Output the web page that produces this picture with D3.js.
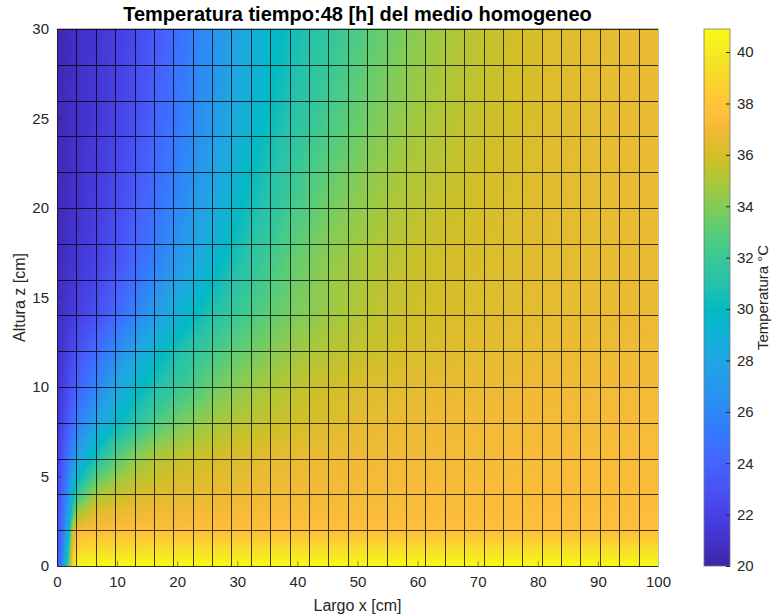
<!DOCTYPE html>
<html><head><meta charset="utf-8">
<script src="https://cdn.jsdelivr.net/npm/d3@7"></script>
<style>
html,body{margin:0;padding:0;background:#fff;}
svg text{font-family:"Liberation Sans",Arial,Helvetica,sans-serif;}
</style></head>
<body>
<svg id="chart" width="773" height="616"></svg>
<script>
// ---- tick labels ----
const xTicks = [0,10,20,30,40,50,60,70,80,90,100];
const zTicks = [0,5,10,15,20,25,30];
const cbTicks = [20,22,24,26,28,30,32,34,36,38,40];
const cbDomain = [20, 40.9];
// ---- data nodes (x in cm, z in cm) ----
const xNodes = [0,1,2,2.6,3.2,6.5,9.7,12.9,16.1,19.4,22.6,25.8,29,32.3,38.7,45.2,51.6,58.1,64.5,71,77.4,83.9,90.3,100];
const zNodes = [0,1,2,3,4,6,8,10,12,14,17,20,25,30];
// temperature (°C) along each z row, at xNodes
const T_z0  = [22.8,27.0,33.5,38.5,40.6,40.8,40.8,40.8,40.8,40.8,40.8,40.8,40.8,40.8,40.8,40.8,40.8,40.8,40.8,40.8,40.8,40.8,40.8,40.8];
const T_z1  = [22.5,25.5,31.5,37.0,38.9,39.1,39.15,39.15,39.2,39.2,39.2,39.2,39.2,39.2,39.2,39.2,39.25,39.25,39.25,39.25,39.25,39.25,39.25,39.25];
const T_z2  = [22.3,25.0,29.5,35.5,37.2,37.45,37.5,37.55,37.55,37.55,37.6,37.6,37.6,37.6,37.6,37.6,37.6,37.6,37.6,37.6,37.6,37.6,37.6,37.6];
const T_z3  = [22.2,24.8,27.8,31.5,34.5,36.4,36.7,36.85,36.95,37.0,37.05,37.1,37.15,37.2,37.25,37.3,37.3,37.35,37.4,37.4,37.45,37.45,37.5,37.5];
const T_z4  = [22.0,24.3,27.0,29.5,31.5,34.8,35.6,36.0,36.3,36.5,36.6,36.7,36.8,36.85,37.0,37.1,37.15,37.2,37.25,37.3,37.3,37.35,37.35,37.4];
const T_z6  = [21.6,23.3,25.3,26.4,27.5,30.8,32.9,34.2,35.0,35.5,35.8,36.0,36.2,36.4,36.7,36.85,36.95,37.05,37.1,37.15,37.2,37.25,37.3,37.35];
const T_z8  = [21.2,22.3,23.7,24.5,25.3,27.8,29.6,31.2,32.5,33.4,34.1,34.7,35.1,35.4,35.9,36.3,36.6,36.75,36.9,37.0,37.05,37.1,37.15,37.2];
const T_z10 = [21.0,21.8,22.8,23.3,23.8,25.8,27.8,29.4,30.7,31.7,32.5,33.4,34.0,34.5,35.3,35.9,36.3,36.5,36.7,36.8,36.9,36.95,37.0,37.05];
const T_z12 = [20.8,21.3,22.0,22.4,22.8,24.4,26.2,27.8,29.3,30.5,31.5,32.3,33.0,33.5,34.5,35.2,35.7,36.1,36.3,36.5,36.6,36.75,36.85,36.95];
const T_z14 = [20.7,21.0,21.4,21.6,21.8,22.8,24.2,25.7,27.3,28.7,29.9,31.0,31.8,32.5,33.7,34.6,35.3,35.8,36.1,36.3,36.5,36.6,36.7,36.8];
const T_z17 = [20.5,20.7,21.0,21.15,21.3,22.0,23.0,24.2,25.5,26.8,28.0,29.3,30.5,31.5,33.1,34.3,35.0,35.6,36.0,36.2,36.4,36.55,36.65,36.75];
const T_z20 = [20.4,20.6,20.8,20.95,21.1,21.7,22.5,23.5,24.6,25.8,27.0,28.2,29.4,30.5,32.2,33.6,34.5,35.2,35.7,36.1,36.3,36.5,36.6,36.7];
const T_z25 = [20.3,20.5,20.7,20.8,20.9,21.4,22.0,22.8,23.8,24.9,26.0,27.1,28.2,29.3,31.0,32.4,33.6,34.5,35.2,35.7,36.1,36.4,36.6,36.7];
const T_z30 = [20.2,20.4,20.6,20.7,20.8,21.2,21.7,22.4,23.3,24.4,25.5,26.5,27.5,28.6,30.3,31.6,32.9,33.9,34.8,35.5,36.0,36.35,36.55,36.7];
const tempRows = [T_z0,T_z1,T_z2,T_z3,T_z4,T_z6,T_z8,T_z10,T_z12,T_z14,T_z17,T_z20,T_z25,T_z30];
// mesh drawn over the field: 31 x 15 cells
const meshNX = 31, meshNZ = 15;
// parula colormap samples
const parula = [
 [0.2422,0.1504,0.6603],[0.2647,0.1978,0.7952],[0.2783,0.2559,0.8991],[0.2810,0.3228,0.9579],
 [0.2699,0.3892,0.9906],[0.2206,0.4603,0.9973],[0.1786,0.5289,0.9682],[0.1540,0.5902,0.9218],
 [0.1248,0.6459,0.8883],[0.0689,0.6948,0.8394],[0.0067,0.7312,0.7660],[0.1408,0.7584,0.6842],
 [0.2161,0.7843,0.5923],[0.3406,0.8008,0.4789],[0.5044,0.7993,0.3480],[0.6720,0.7793,0.2227],
 [0.8203,0.7498,0.1535],[0.9393,0.7288,0.2100],[0.9956,0.7434,0.2371],[0.9952,0.7893,0.2028],
 [0.9786,0.8386,0.1766],[0.9610,0.8890,0.1537],[0.9628,0.9373,0.1265],[0.9769,0.9839,0.0805]];
const parulaPos = [0,3,6,9,12,15,18,21,24,27,30,33,36,39,42,45,48,51,53,55,57,59,61,63].map(i=>i/63);

// ---- layout ----
const svg = d3.select("#chart");
const L = 57, R = 658, T = 29, B = 566;
const x = d3.scaleLinear().domain([0,100]).range([L,R]);
const z = d3.scaleLinear().domain([0,30]).range([B,T]);
const cmap = d3.scaleLinear()
  .domain(parulaPos.map(p => cbDomain[0] + p*(cbDomain[1]-cbDomain[0])))
  .range(parula.map(c => d3.rgb(c[0]*255,c[1]*255,c[2]*255).toString()))
  .interpolate(d3.interpolateRgb).clamp(true);

// ---- field raster ----
const W = R-L, H = B-T;
const cv = document.createElement("canvas"); cv.width = W; cv.height = H;
const ctx = cv.getContext("2d");
const img = ctx.createImageData(W,H);
const lut = d3.range(1024).map(i => d3.rgb(cmap(cbDomain[0] + i/1023*(cbDomain[1]-cbDomain[0]))));
function cell(nodes, v){ let i = d3.bisectRight(nodes, v)-1; return Math.max(0, Math.min(nodes.length-2, i)); }
for (let j=0;j<H;j++){
  const zv = z.invert(T+j+0.5); const iz = cell(zNodes, zv);
  const fz = (zv - zNodes[iz])/(zNodes[iz+1]-zNodes[iz]);
  for (let i=0;i<W;i++){
    const xv = x.invert(L+i+0.5); const ix = cell(xNodes, xv);
    const fx = (xv - xNodes[ix])/(xNodes[ix+1]-xNodes[ix]);
    const a = tempRows[iz][ix], b = tempRows[iz][ix+1], c = tempRows[iz+1][ix], d = tempRows[iz+1][ix+1];
    const t = (a*(1-fx)+b*fx)*(1-fz) + (c*(1-fx)+d*fx)*fz;
    let k = Math.round((t-cbDomain[0])/(cbDomain[1]-cbDomain[0])*1023); k = Math.max(0,Math.min(1023,k));
    const col = lut[k]; const p = (j*W+i)*4;
    img.data[p]=col.r; img.data[p+1]=col.g; img.data[p+2]=col.b; img.data[p+3]=255;
  }
}
ctx.putImageData(img,0,0);
svg.append("image").attr("x",L).attr("y",T).attr("width",W).attr("height",H)
  .attr("preserveAspectRatio","none").attr("href", cv.toDataURL());

// ---- mesh ----
const meshX = d3.range(meshNX+1).map(i => i*100/meshNX);
const meshZ = d3.range(meshNZ+1).map(i => i*30/meshNZ);
const mesh = svg.append("g").attr("stroke","#000").attr("stroke-opacity",0.75).attr("stroke-width",1);
mesh.selectAll("line.v").data(meshX).join("line").attr("class","v")
  .attr("x1",d=>Math.round(x(d))+0.5).attr("x2",d=>Math.round(x(d))+0.5).attr("y1",T).attr("y2",B);
mesh.selectAll("line.h").data(meshZ).join("line").attr("class","h")
  .attr("y1",d=>Math.round(z(d))+0.5).attr("y2",d=>Math.round(z(d))+0.5).attr("x1",L).attr("x2",R);

// ---- axes ----
const xAxis = svg.append("g").attr("transform",`translate(0,${B})`)
  .call(d3.axisBottom(x).tickValues(xTicks).tickSize(-5).tickPadding(10));
const zAxis = svg.append("g").attr("transform",`translate(${L},0)`)
  .call(d3.axisLeft(z).tickValues(zTicks).tickSize(-5).tickPadding(8));
[xAxis,zAxis].forEach(g=>{
  g.select(".domain").attr("stroke","#262626").attr("stroke-opacity",0.6);
  g.selectAll(".tick line").attr("stroke","#262626").attr("stroke-opacity",0.5);
  g.selectAll(".tick text").attr("fill","#262626").style("font-size","15px");
});
svg.append("line").attr("x1",R+0.5).attr("x2",R+0.5).attr("y1",T).attr("y2",B).attr("stroke","#bbb");
svg.append("line").attr("x1",L).attr("x2",R).attr("y1",T-0.5).attr("y2",T-0.5).attr("stroke","#bbb");

svg.append("text").attr("x",(L+R)/2).attr("y",611).attr("text-anchor","middle")
  .attr("fill","#262626").style("font-size","16px").text("Largo x [cm]");
svg.append("text").attr("transform",`translate(25,${(T+B)/2}) rotate(-90)`).attr("text-anchor","middle")
  .attr("fill","#262626").style("font-size","16px").text("Altura z [cm]");
svg.append("text").attr("x",(L+R)/2).attr("y",21).attr("text-anchor","middle")
  .attr("fill","#000").style("font-size","20px").style("font-weight","bold")
  .text("Temperatura tiempo:48 [h] del medio homogeneo");

// ---- colorbar ----
const cbL = 704, cbR = 730;
const cbY = d3.scaleLinear().domain(cbDomain).range([B,T]);
const grad = svg.append("defs").append("linearGradient").attr("id","cbgrad")
  .attr("x1",0).attr("y1",1).attr("x2",0).attr("y2",0);
grad.selectAll("stop").data(parulaPos).join("stop")
  .attr("offset",d=>d).attr("stop-color",(d,i)=>cmap.range()[i]);
svg.append("rect").attr("x",cbL).attr("y",T).attr("width",cbR-cbL).attr("height",B-T)
  .attr("fill","url(#cbgrad)").attr("stroke","#777").attr("stroke-width",0.8);
const cbAxis = svg.append("g").attr("transform",`translate(${cbR},0)`)
  .call(d3.axisRight(cbY).tickValues(cbTicks).tickSize(-4).tickPadding(7));
cbAxis.select(".domain").remove();
cbAxis.selectAll(".tick line").attr("stroke","#262626");
cbAxis.selectAll(".tick text").attr("fill","#262626").style("font-size","15px");
svg.append("text").attr("transform",`translate(768,${(T+B)/2}) rotate(-90)`).attr("text-anchor","middle")
  .attr("fill","#262626").style("font-size","15px").text("Temperatura °C");
</script>
</body></html>
